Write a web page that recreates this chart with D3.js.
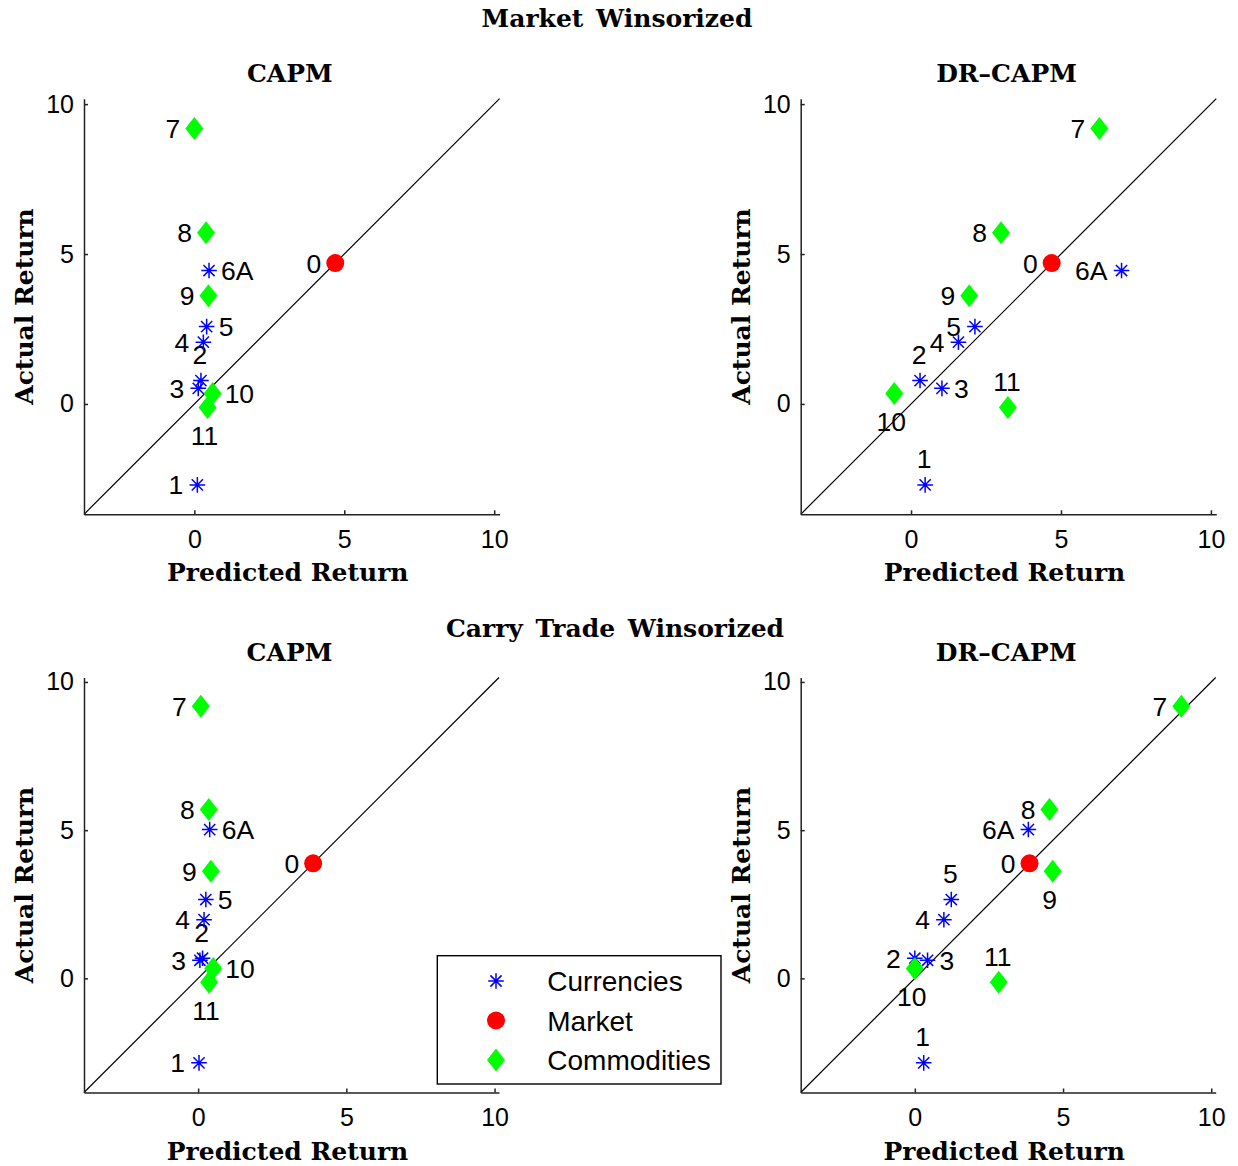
<!DOCTYPE html>
<html>
<head>
<meta charset="utf-8">
<script src="https://cdn.jsdelivr.net/npm/d3@7"></script>
<style>
body { margin: 0; background: #fff; }
</style>
</head>
<body>
<div id="chart"></div>
<script>
// labels of the assets, same order in every series below
var labels = ["1", "2", "3", "4", "5", "6A", "0", "7", "8", "9", "10", "11"];
var groups = ["cur", "cur", "cur", "cur", "cur", "cur", "mkt", "com", "com", "com", "com", "com"];

// Market winsorized
var actualMkt = [-2.70, 0.78, 0.52, 2.06, 2.58, 4.45, 4.70, 9.19, 5.71, 3.61, 0.35, -0.12];
var capmMkt   = [0.10, 0.22, 0.13, 0.30, 0.41, 0.49, 4.70, 0.00, 0.39, 0.47, 0.61, 0.44];
var drMkt     = [0.47, 0.30, 1.03, 1.58, 2.13, 7.02, 4.69, 6.28, 3.00, 1.94, -0.56, 3.23];

// Carry trade winsorized
var actualCarry = [-2.85, 0.68, 0.61, 1.98, 2.66, 5.02, 3.88, 9.18, 5.70, 3.61, 0.33, -0.13];
var capmCarry   = [0.03, 0.15, 0.06, 0.20, 0.26, 0.39, 3.88, 0.09, 0.36, 0.43, 0.51, 0.37];
var drCarry     = [0.30, 0.00, 0.43, 0.98, 1.23, 3.83, 3.87, 8.99, 4.54, 4.65, 0.00, 2.83];

// side of the marker where each label goes
var sideCapm    = ["l", "t", "l", "l", "r", "r", "l", "l", "l", "l", "r", "b"];
var sideDrMkt   = ["t", "t", "r", "l", "l", "l", "l", "l", "l", "l", "b", "t"];
var sideDrCarry = ["t", "l", "r", "l", "t", "l", "l", "l", "l", "b", "b", "t"];

var tickValues = [0, 5, 10];
var domMkt = [-3.68, 10.18];
var domCarry = [-3.85, 10.15];

var legendNames = ["Currencies", "Market", "Commodities"];
var legendGroups = ["cur", "mkt", "com"];

var W = 1238, H = 1166;
var serif = "'DejaVu Serif', serif";
var sans = "'Liberation Sans', Arial, sans-serif";

var svg = d3.select("#chart").append("svg")
    .attr("width", W)
    .attr("height", H);

// marker shapes, MATLAB style
function drawMarker(g, grp, x, y) {
    if (grp == "cur") {
        var s = 7.8, d = 5.6;
        g.append("path")
            .attr("d", "M" + (x - s) + "," + y + "H" + (x + s) +
                "M" + x + "," + (y - s) + "V" + (y + s) +
                "M" + (x - d) + "," + (y - d) + "L" + (x + d) + "," + (y + d) +
                "M" + (x - d) + "," + (y + d) + "L" + (x + d) + "," + (y - d))
            .attr("stroke", "#0000ff")
            .attr("stroke-width", 1.5)
            .attr("fill", "none");
    } else if (grp == "mkt") {
        g.append("circle")
            .attr("cx", x).attr("cy", y).attr("r", 9)
            .attr("fill", "#ff0000");
    } else {
        var hw = 9, hh = 11.5;
        g.append("path")
            .attr("d", "M" + x + "," + (y - hh) + "L" + (x + hw) + "," + y +
                "L" + x + "," + (y + hh) + "L" + (x - hw) + "," + y + "Z")
            .attr("fill", "#00ff00");
    }
}

function panel(p) {
    var g = svg.append("g");
    var x = d3.scaleLinear().domain(p.dom).range([p.left, p.left + p.size]);
    var y = d3.scaleLinear().domain(p.dom).range([p.top + p.size, p.top]);

    // 45 degree line
    g.append("line")
        .attr("x1", x(p.dom[0])).attr("y1", y(p.dom[0]))
        .attr("x2", x(p.dom[1])).attr("y2", y(p.dom[1]))
        .attr("stroke", "#000").attr("stroke-width", 1.2);

    var xAxis = d3.axisBottom(x).tickValues(tickValues).tickSizeInner(-4).tickSizeOuter(0).tickPadding(16);
    var yAxis = d3.axisLeft(y).tickValues(tickValues).tickSizeInner(-4).tickSizeOuter(0).tickPadding(10);

    var gx = g.append("g")
        .attr("transform", "translate(0," + (p.top + p.size) + ")")
        .call(xAxis);
    var gy = g.append("g")
        .attr("transform", "translate(" + p.left + ",0)")
        .call(yAxis);
    [gx, gy].forEach(function(a) {
        a.selectAll("path,line").attr("stroke", "#222").attr("stroke-width", 1.5);
        a.selectAll("text").attr("font-family", sans).attr("font-size", "25px").attr("fill", "#000");
    });

    // markers + labels
    for (var i = 0; i < labels.length; i++) {
        var px = x(p.pred[i]), py = y(p.actual[i]);
        drawMarker(g, groups[i], px, py);
        var t = g.append("text")
            .attr("font-family", sans)
            .attr("font-size", "26.5px")
            .attr("dy", "0.358em")
            .text(labels[i]);
        var side = p.side[i];
        if (side == "l") t.attr("x", px - 14).attr("y", py).attr("text-anchor", "end");
        else if (side == "r") t.attr("x", px + 12).attr("y", py).attr("text-anchor", "start");
        else if (side == "t") t.attr("x", px - 1).attr("y", py - 26).attr("text-anchor", "middle");
        else t.attr("x", px - 3).attr("y", py + 28).attr("text-anchor", "middle");
    }

    var cx = p.left + p.size / 2;
    g.append("text")
        .attr("x", cx - 2).attr("y", p.top - 17)
        .attr("text-anchor", "middle")
        .attr("font-family", serif).attr("font-weight", "bold").attr("font-size", "25px")
        .text(p.title);
    g.append("text")
        .attr("x", cx - 4).attr("y", p.top + p.size + 67)
        .attr("text-anchor", "middle")
        .attr("font-family", serif).attr("font-weight", "bold").attr("font-size", "25px")
        .text("Predicted Return");
    g.append("text")
        .attr("transform", "translate(" + (p.left - 51) + "," + (p.top + p.size / 2) + ") rotate(-90)")
        .attr("text-anchor", "middle")
        .attr("font-family", serif).attr("font-weight", "bold").attr("font-size", "25px")
        .text("Actual Return");
}

panel({left: 84, top: 98.7, size: 415.6, dom: domMkt, pred: capmMkt, actual: actualMkt, side: sideCapm, title: "CAPM"});
panel({left: 800.7, top: 98.7, size: 415.6, dom: domMkt, pred: drMkt, actual: actualMkt, side: sideDrMkt, title: "DR\u2013CAPM"});
panel({left: 84, top: 677.5, size: 415, dom: domCarry, pred: capmCarry, actual: actualCarry, side: sideCapm, title: "CAPM"});
panel({left: 800.7, top: 677.5, size: 415, dom: domCarry, pred: drCarry, actual: actualCarry, side: sideDrCarry, title: "DR\u2013CAPM"});

// row titles
svg.append("text")
    .attr("x", 617).attr("y", 27)
    .attr("text-anchor", "middle")
    .attr("font-family", serif).attr("font-weight", "bold").attr("font-size", "25px")
    .attr("word-spacing", "4px")
    .text("Market Winsorized");
svg.append("text")
    .attr("x", 615).attr("y", 637)
    .attr("text-anchor", "middle")
    .attr("font-family", serif).attr("font-weight", "bold").attr("font-size", "25px")
    .attr("word-spacing", "4px")
    .text("Carry Trade Winsorized");

// legend
var leg = svg.append("g");
leg.append("rect")
    .attr("x", 437.3).attr("y", 955.7)
    .attr("width", 283.7).attr("height", 128.3)
    .attr("fill", "#fff").attr("stroke", "#000").attr("stroke-width", 1.4);
var legY = d3.scalePoint().domain(legendNames).range([981, 1060]);
legendNames.forEach(function(n, i) {
    drawMarker(leg, legendGroups[i], 496, legY(n));
    leg.append("text")
        .attr("x", 547.3).attr("y", legY(n))
        .attr("dy", "0.358em")
        .attr("font-family", sans).attr("font-size", "28px")
        .text(n);
});
</script>
</body>
</html>
